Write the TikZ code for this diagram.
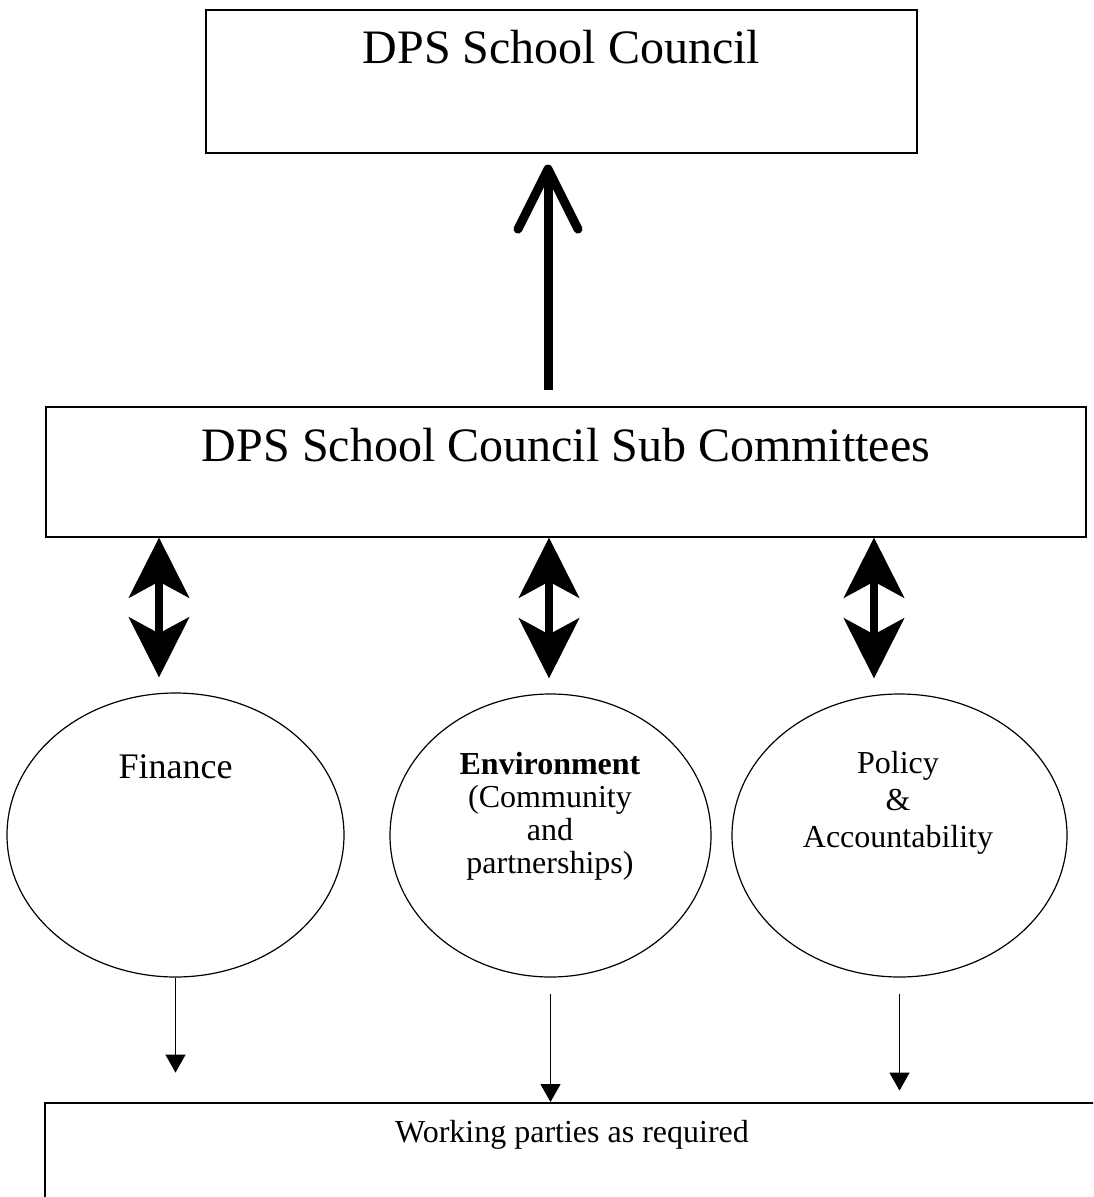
\documentclass[tikz,border=0pt]{standalone}
\usepackage{fontspec}
\setmainfont{Liberation Serif}
\usepackage{tikz}
\usetikzlibrary{shapes.geometric, arrows.meta, positioning, calc}

\begin{document}
\begin{tikzpicture}[
    x=0.5pt, y=-0.5pt,
    council/.style={rectangle, draw=black, line width=0.8pt, inner sep=0pt, anchor=north, font=\fontsize{24}{28}\selectfont},
    unit/.style={ellipse, draw=black, line width=0.6pt, inner sep=0pt},
    unitlabel/.style={align=center, inner sep=0pt, font=\fontsize{16}{18.5}\selectfont},
    link/.style={{Stealth[length=30pt,width=30pt,inset=8pt]}-{Stealth[length=30pt,width=30pt,inset=8pt]}, line width=4pt},
    feed/.style={-{Triangle[length=9pt,width=10pt]}, line width=0.6pt}
]
    \useasboundingbox (0,0) rectangle (1093,1197);
    \clip (0,0) rectangle (1093,1197);

    \node (council) [council, minimum width=355.5pt, text height=27pt, text depth=44.5pt] at (561.5,9) {DPS School Council};
    \node (subcomm) [council, minimum width=520pt, text height=27.5pt, text depth=37.5pt] at (566,406) {DPS School Council Sub Committees};

    \node (finance) [unit, minimum width=168.5pt, minimum height=142pt] at (175.5,835) {};
    \node (environ) [unit, minimum width=160.5pt, minimum height=141.5pt] at (550.5,835.5) {};
    \node (policy) [unit, minimum width=167.5pt, minimum height=141.5pt] at (899.5,835.5) {};

    \node (finance-txt) [unitlabel, anchor=base, font=\fontsize{18}{20}\selectfont] at (175.5,778) {Finance};
    \node (environ-txt) [unitlabel, anchor=north, font=\fontsize{16}{16.5}\selectfont] at (550,752) {\textbf{Environment}\\(Community\\and\\partnerships)};
    \node (policy-txt) [unitlabel, anchor=north] at (898,751) {Policy\\\&\\Accountability};

    \node (working) [council, minimum width=527pt, text height=20pt, text depth=60pt, font=\fontsize{16}{18}\selectfont] at (572,1102) {Working parties as required};

    \coordinate (up) at (548,0);
    \coordinate (lk1) at (159,0);
    \coordinate (lk2) at (549,0);
    \coordinate (lk3) at (874,0);

    \draw[-{Straight Barb[length=30pt,width=30pt,round]}, line width=4.5pt] ([yshift=8pt]subcomm.north -| up) -- ([yshift=-5.5pt]council.south -| up);

    \draw[link] (subcomm.south -| lk1) -- ([yshift=7.5pt]finance.north -| lk1);
    \draw[link] (subcomm.south -| lk2) -- ([yshift=7.5pt]environ.north -| lk2);
    \draw[link] (subcomm.south -| lk3) -- ([yshift=7.5pt]policy.north -| lk3);

    \draw[feed] (finance.south) -- ++(0,95);
    \draw[feed] ([yshift=-8pt]environ.south) -- (environ.south |- working.north);
    \draw[feed] ([yshift=-8pt]policy.south) -- ++(0,97);
\end{tikzpicture}
\end{document}
